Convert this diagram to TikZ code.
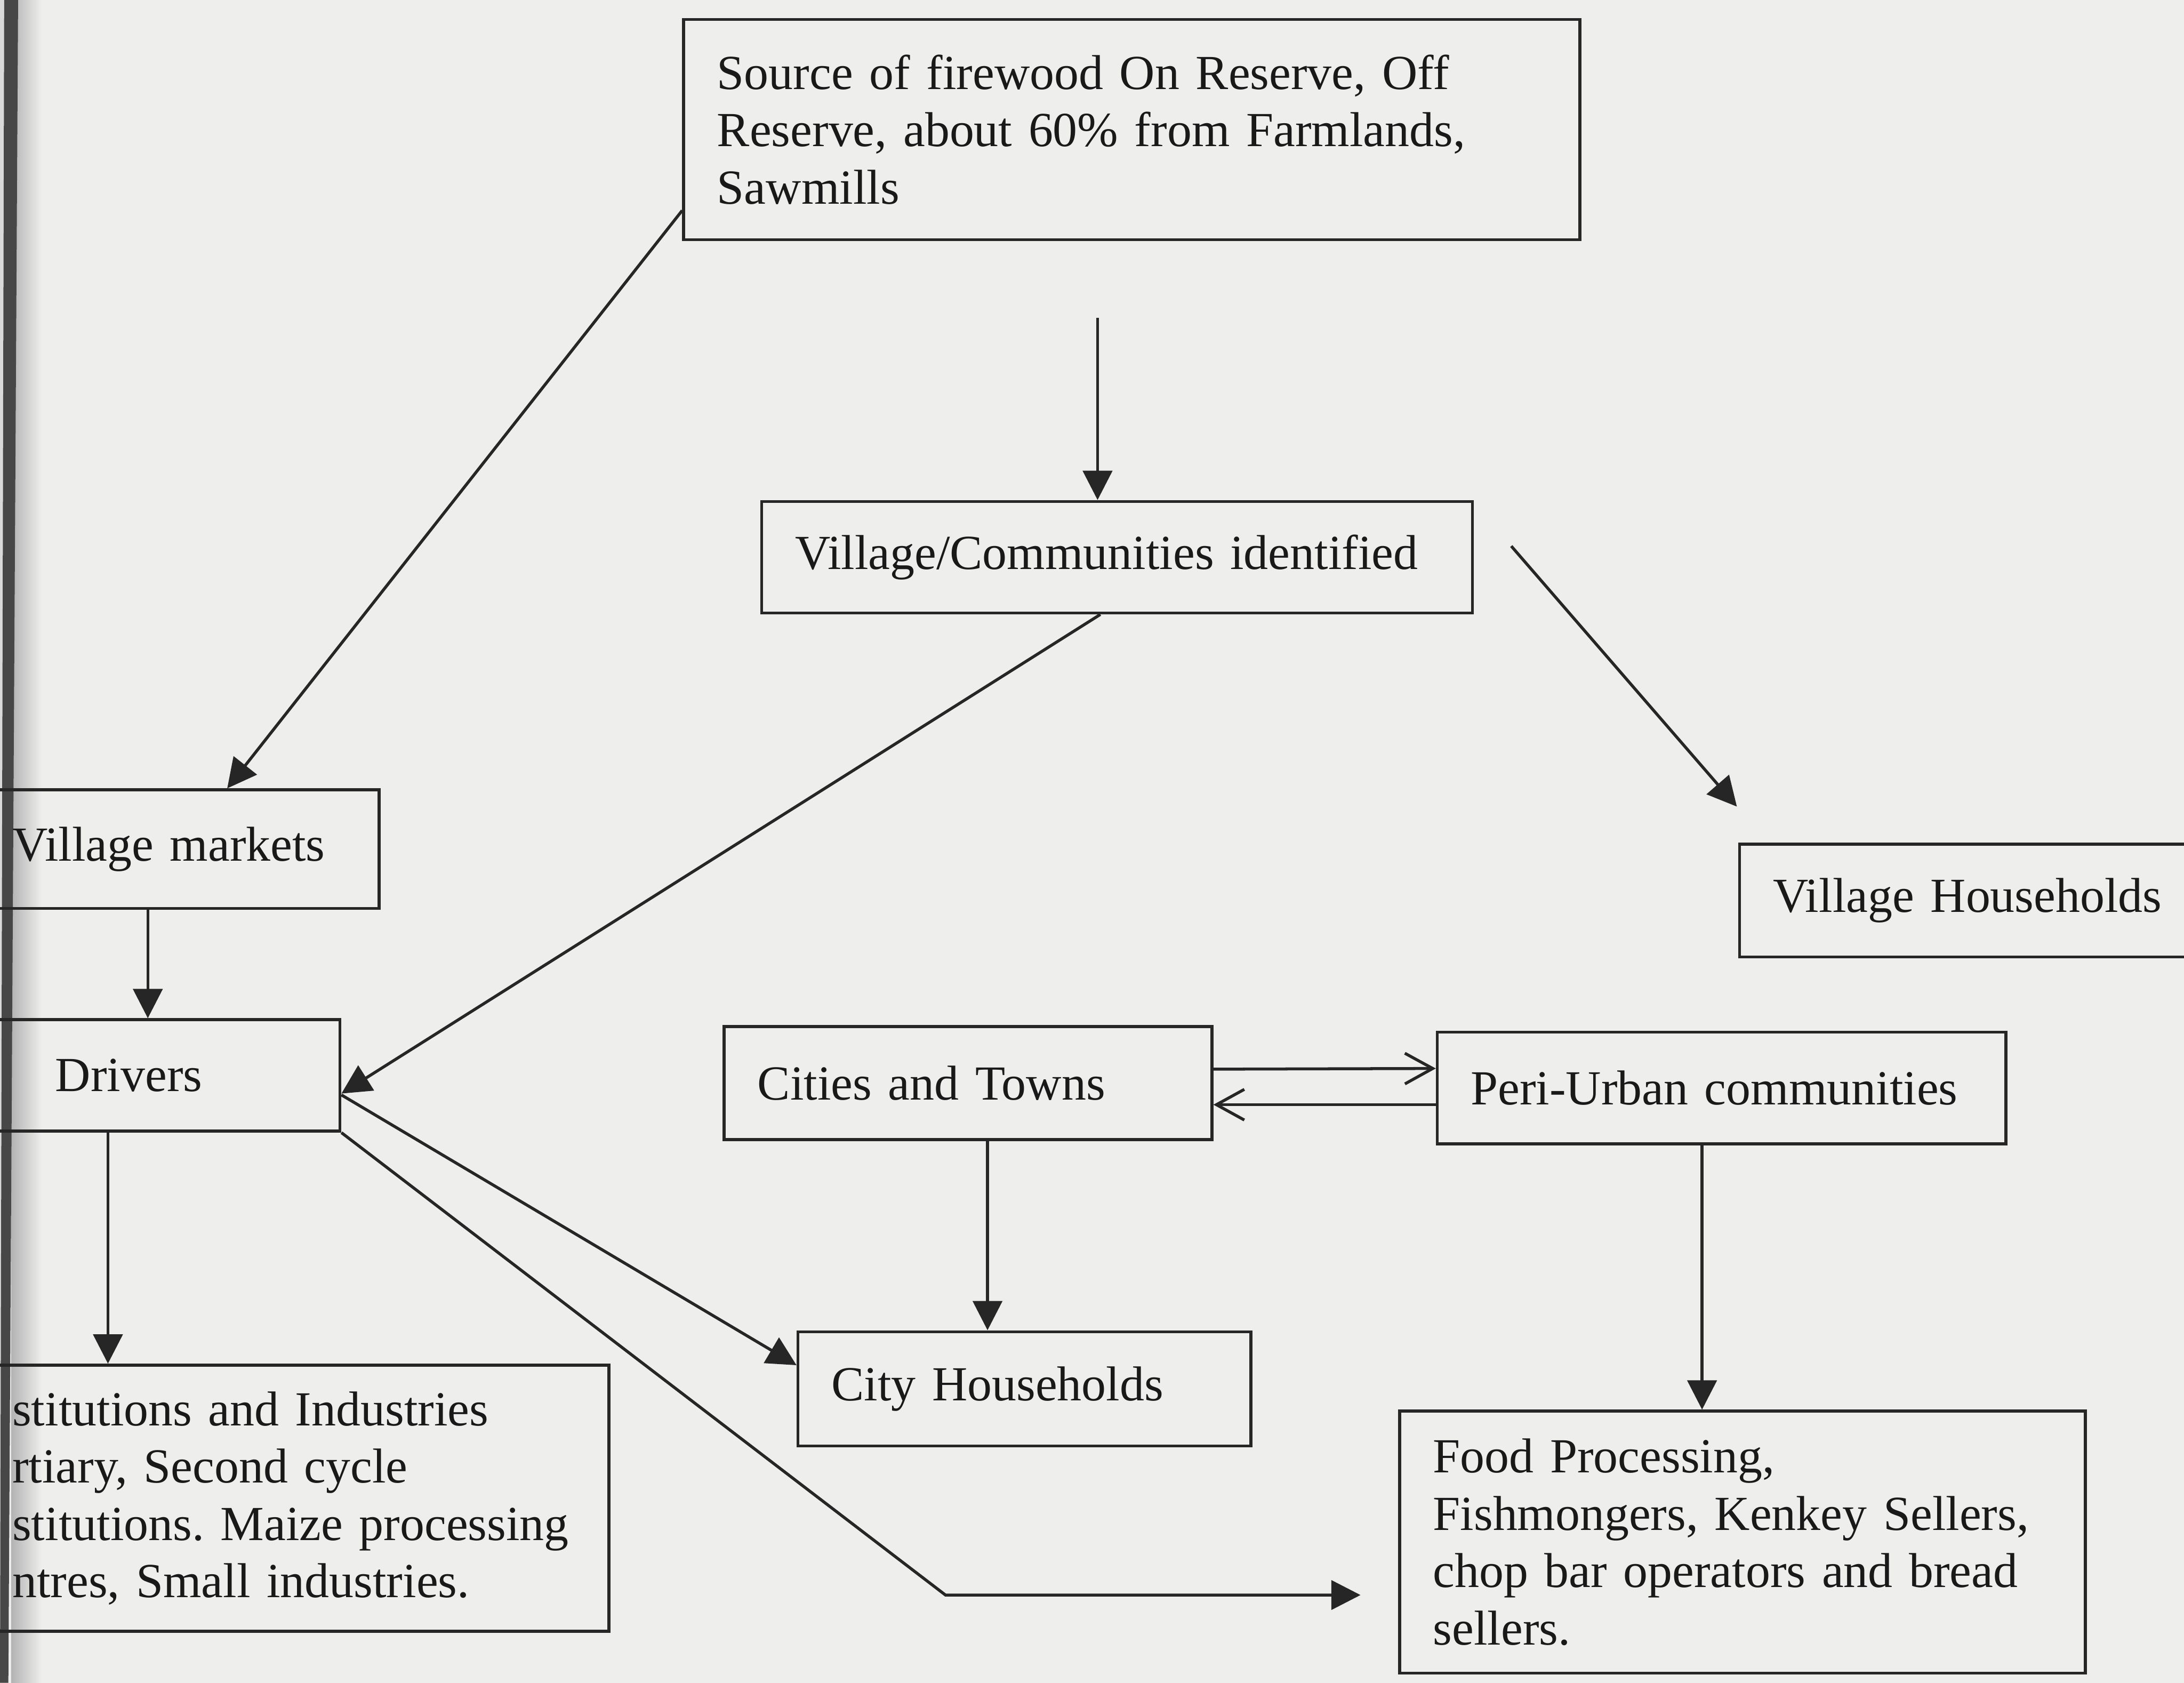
\documentclass[tikz,border=0pt]{standalone}
\usepackage{fontspec}
\setmainfont{Liberation Serif}
\usepackage{tikz}
\usetikzlibrary{arrows.meta,positioning,calc}
\usepackage{xcolor}
\frenchspacing
\definecolor{paper}{RGB}{238,239,237}
\tikzset{
  block/.style = {draw=black!85, line width=0.6pt, rectangle, inner xsep=0.24cm,
                  align=left, text=black!90, font=\fontsize{10}{11.7}\selectfont},
  sig/.style   = {-{Triangle[length=2.1mm, width=2.1mm]}, line width=0.6pt, draw=black!85},
  dual/.style  = {-{Straight Barb[length=2mm, width=2.2mm]}, line width=0.6pt, draw=black!85},
}
\begin{document}
\begin{tikzpicture}[x=0.01cm, y=-0.01cm,
   cb/.style={block, align=center}]
\useasboundingbox (0,0) rectangle (1568,1208);
\clip (0,0) rectangle (1568,1208);
\fill[paper] (0,0) rectangle (1568,1208);
\shade[left color=black!30, right color=paper] (8,0) rectangle (30,1208);
\fill[black!15] (0,0) -- (3,0) -- (0,1208) -- cycle;
\fill[black!72] (3,0) -- (13,0) -- (6,1208) -- (0,1208) -- cycle;
\node[block, minimum height=1.58cm, text width=5.95cm] (src) at (812.5,93)
  {Source of firewood On Reserve, Off\\ Reserve, about 60\% from Farmlands,\\ Sawmills};
\node[block, minimum height=0.8cm, text width=4.62cm] (vc) at (802,400)
  {Village/Communities identified};
\node[block, minimum height=0.85cm, text width=2.39cm] (vm) at (128.5,609.5) {Village markets};
\node[cb, minimum height=0.8cm, text width=2.55cm] (dr) at (92.5,772) {Drivers};
\node[block, inner xsep=0.19cm, minimum height=1.91cm, text width=4.09cm] (in) at (213.5,1075.5)
  {stitutions and Industries\\ rtiary, Second cycle\\ stitutions. Maize processing\\ ntres, Small industries.};
\node[block, minimum height=0.81cm, text width=3.02cm] (ct) at (695,777.5) {Cities and Towns};
\node[block, minimum height=0.8cm, text width=3.6cm] (pu) at (1236,781) {Peri-Urban communities};
\node[block, minimum height=0.82cm, text width=2.77cm] (ch) at (735.5,997) {City Households};
\node[block, minimum height=1.88cm, text width=4.44cm] (fp) at (1251,1107)
  {Food Processing,\\ Fishmongers, Kenkey Sellers,\\ chop bar operators and bread\\ sellers.};
\node[block, minimum height=0.81cm, text width=3.03cm] (vh) at (1424.5,646.5) {Village Households};
\coordinate (a0) at (788,228);
\coordinate (d0) at (1085,392);
\coordinate (d1) at (1247,579);
\coordinate (e0) at ($(vm.south east)+(-167,0)$);
\coordinate (f0) at ($(dr.south)+(-15,0)$);
\coordinate (j0) at ($(ct.south)+(14,0)$);
\coordinate (k0) at ($(pu.south)+(-14,0)$);
\draw[sig] (a0) -- (a0 |- vc.north);
\draw[sig] ($(src.south west)+(0,-22)$) -- ($(vm.north east)+(-110,0)$);
\draw[sig] ($(vc.south)+(-12,0)$) -- ($(dr.east)+(0,13)$);
\draw[sig] (d0) -- (d1);
\draw[sig] (e0) -- (e0 |- dr.north);
\draw[sig] (f0) -- (f0 |- in.north);
\draw[sig] ($(dr.east)+(0,14)$) -- ($(ch.west)+(0,-17)$);
\draw[sig] (dr.south east) -- ($(fp.west)+(-325,38)$) -- ($(fp.west)+(-27,38)$);
\draw[dual] ($(ct.east)+(0,-10)$) -- ($(pu.west)+(0,-14)$);
\draw[dual] ($(pu.west)+(0,12)$) -- ($(ct.east)+(0,15.5)$);
\draw[sig] (j0) -- (j0 |- ch.north);
\draw[sig] (k0) -- (k0 |- fp.north);
\end{tikzpicture}
\end{document}
